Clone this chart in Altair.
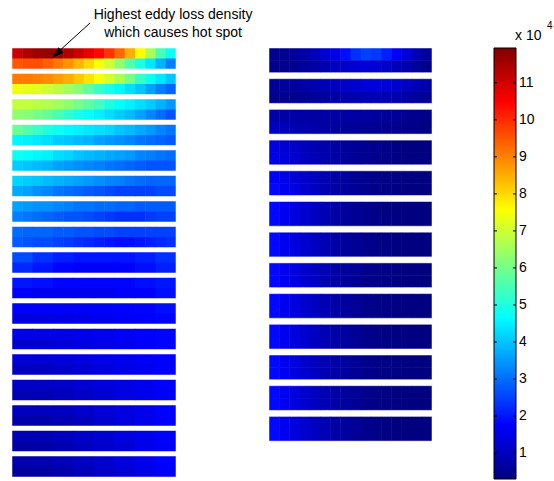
import altair as alt
import pandas as pd

# ---------------- data (values in units of 1e4) ----------------
CBAR_MIN, CBAR_MAX = 0.3, 11.94
CBAR_TICKS = [1, 2, 3, 4, 5, 6, 7, 8, 9, 10, 11]

# left column, 17 conductors; samples along each conductor, top half / bottom half
LEFT_TOP = [
    [11.1, 11.4, 11.6, 11.7, 11.6, 11.4, 11.1, 10.8, 10.4, 9.9, 9.3, 8.5, 7.6, 6.6, 5.5, 4.8],
    [9.1, 9.1, 9.0, 8.9, 8.7, 8.5, 8.2, 7.9, 7.5, 7.1, 6.6, 6.0, 5.3, 4.8, 4.4, 4.0],
    [6.9, 6.9, 6.8, 6.7, 6.5, 6.3, 6.0, 5.7, 5.4, 5.0, 4.7, 4.5, 4.3, 4.1, 3.8, 3.5],
    [5.9, 5.6, 5.3, 5.0, 4.8, 4.6, 4.5, 4.4, 4.3, 4.2, 4.0, 3.9, 3.7, 3.5, 3.3, 3.1],
    [4.8, 4.7, 4.6, 4.5, 4.3, 4.2, 4.0, 3.9, 3.8, 3.7, 3.6, 3.5, 3.3, 3.2, 3.1, 3.0],
    [4.2, 4.1, 4.0, 3.9, 3.8, 3.7, 3.6, 3.5, 3.4, 3.3, 3.2, 3.1, 3.0, 2.9, 2.9, 2.9],
    [3.6, 3.5, 3.4, 3.4, 3.3, 3.2, 3.1, 3.1, 3.0, 3.0, 2.9, 2.9, 2.8, 2.8, 2.8, 2.8],
    [3.0, 2.9, 2.9, 2.9, 2.8, 2.8, 2.7, 2.7, 2.6, 2.6, 2.5, 2.5, 2.5, 2.5, 2.5, 2.5],
    [2.6, 2.3, 2.1, 2.0, 2.0, 2.0, 2.1, 2.3],
    [2.0, 1.9, 1.8, 1.8, 1.8, 1.8, 1.9, 2.0],
    [1.75, 1.7, 1.7, 1.7, 1.7, 1.75, 1.8, 1.9],
    [1.5, 1.5, 1.5, 1.55, 1.6, 1.65, 1.75, 1.8],
    [1.3, 1.3, 1.35, 1.4, 1.5, 1.55, 1.65, 1.75],
    [1.1, 1.1, 1.15, 1.25, 1.35, 1.45, 1.6, 1.75],
    [1.0, 1.0, 1.05, 1.15, 1.3, 1.4, 1.55, 1.75],
    [0.9, 0.9, 1.0, 1.1, 1.25, 1.4, 1.55, 1.75],
    [0.8, 0.85, 0.95, 1.05, 1.2, 1.35, 1.5, 1.75],
]
LEFT_BOTTOM = [
    [9.5, 9.6, 9.6, 9.4, 9.1, 8.8, 8.4, 8.0, 7.5, 7.0, 6.3, 5.6, 5.0, 4.4, 3.8, 3.2],
    [7.4, 7.3, 7.2, 7.0, 6.8, 6.5, 6.2, 5.8, 5.3, 4.9, 4.6, 4.3, 4.0, 3.6, 3.2, 2.9],
    [6.3, 6.2, 6.0, 5.8, 5.5, 5.2, 4.9, 4.7, 4.5, 4.3, 4.1, 3.9, 3.6, 3.3, 3.0, 2.7],
    [4.6, 4.5, 4.4, 4.3, 4.1, 4.0, 3.9, 3.8, 3.6, 3.5, 3.4, 3.3, 3.1, 3.0, 2.9, 2.8],
    [4.1, 4.0, 3.9, 3.8, 3.6, 3.5, 3.4, 3.3, 3.2, 3.1, 3.0, 2.9, 2.8, 2.7, 2.7, 2.7],
    [3.7, 3.6, 3.4, 3.3, 3.1, 3.0, 2.9, 2.8, 2.7, 2.6, 2.5, 2.5, 2.5, 2.5, 2.6, 2.6],
    [3.2, 3.1, 3.0, 2.9, 2.8, 2.7, 2.7, 2.6, 2.5, 2.4, 2.3, 2.3, 2.3, 2.4, 2.5, 2.5],
    [2.8, 2.7, 2.6, 2.6, 2.5, 2.4, 2.3, 2.2, 2.1, 2.0, 1.9, 1.9, 2.0, 2.1, 2.2, 2.3],
    [2.2, 2.0, 1.8, 1.7, 1.7, 1.75, 1.9, 2.1],
    [1.7, 1.6, 1.6, 1.6, 1.6, 1.7, 1.75, 1.9],
    [1.4, 1.4, 1.45, 1.5, 1.6, 1.7, 1.75, 1.8],
    [1.2, 1.2, 1.3, 1.4, 1.5, 1.6, 1.7, 1.8],
    [1.0, 1.0, 1.1, 1.2, 1.35, 1.5, 1.6, 1.75],
    [0.9, 0.9, 1.0, 1.1, 1.25, 1.4, 1.55, 1.7],
    [0.8, 0.8, 0.9, 1.0, 1.2, 1.35, 1.5, 1.7],
    [0.7, 0.75, 0.85, 1.0, 1.15, 1.3, 1.5, 1.7],
    [0.65, 0.7, 0.8, 0.95, 1.1, 1.3, 1.5, 1.7],
]

# right column, 13 conductors
RIGHT_TOP = [
    [0.45, 0.5, 0.6, 0.75, 0.95, 1.2, 1.5, 1.9, 2.3, 2.5, 2.4, 2.1, 1.7, 1.3, 0.9, 0.6],
    [0.55, 0.6, 0.65, 0.7, 0.8, 0.9, 1.0, 1.1, 1.2, 1.3, 1.35, 1.3, 1.2, 1.05, 0.9, 0.75],
    [0.75, 0.75, 0.75, 0.7, 0.7, 0.7, 0.7, 0.7, 0.7, 0.7, 0.65, 0.6, 0.55, 0.5, 0.45, 0.4],
    [1.4, 1.25, 1.1, 1.0, 0.9, 0.8, 0.7, 0.6, 0.55, 0.5, 0.45, 0.4, 0.35, 0.32, 0.3, 0.3],
    [1.7, 1.5, 1.3, 1.15, 1.0, 0.85, 0.72, 0.62, 0.52, 0.45, 0.4, 0.35, 0.32, 0.3, 0.3, 0.3],
    [1.85, 1.6, 1.4, 1.2, 1.05, 0.9, 0.75, 0.65, 0.55, 0.45, 0.4, 0.35, 0.32, 0.3, 0.3, 0.3],
    [1.85, 1.6, 1.4, 1.2, 1.05, 0.9, 0.75, 0.65, 0.55, 0.45, 0.4, 0.35, 0.32, 0.3, 0.3, 0.3],
    [1.85, 1.6, 1.4, 1.2, 1.05, 0.9, 0.75, 0.65, 0.55, 0.45, 0.4, 0.35, 0.32, 0.3, 0.3, 0.3],
    [1.85, 1.6, 1.4, 1.2, 1.05, 0.9, 0.75, 0.65, 0.55, 0.45, 0.4, 0.35, 0.32, 0.3, 0.3, 0.3],
    [1.85, 1.6, 1.4, 1.2, 1.05, 0.9, 0.75, 0.65, 0.55, 0.45, 0.4, 0.35, 0.32, 0.3, 0.3, 0.3],
    [1.85, 1.6, 1.4, 1.2, 1.05, 0.9, 0.75, 0.65, 0.55, 0.45, 0.4, 0.35, 0.32, 0.3, 0.3, 0.3],
    [1.85, 1.6, 1.4, 1.2, 1.05, 0.9, 0.75, 0.65, 0.55, 0.45, 0.4, 0.35, 0.32, 0.3, 0.3, 0.3],
    [1.85, 1.6, 1.4, 1.2, 1.05, 0.9, 0.75, 0.65, 0.55, 0.45, 0.4, 0.35, 0.32, 0.3, 0.3, 0.3],
]
RIGHT_BOTTOM = [
    [0.4, 0.45, 0.5, 0.6, 0.7, 0.85, 1.0, 1.1, 1.25, 1.3, 1.25, 1.1, 0.95, 0.8, 0.6, 0.45],
    [0.45, 0.5, 0.5, 0.55, 0.6, 0.65, 0.7, 0.8, 0.85, 0.9, 0.9, 0.9, 0.85, 0.75, 0.65, 0.55],
    [1.05, 0.95, 0.85, 0.8, 0.75, 0.7, 0.65, 0.6, 0.55, 0.5, 0.5, 0.45, 0.45, 0.4, 0.4, 0.35],
    [1.5, 1.35, 1.2, 1.05, 0.95, 0.85, 0.75, 0.65, 0.55, 0.5, 0.45, 0.4, 0.35, 0.32, 0.3, 0.3],
    [1.85, 1.6, 1.4, 1.2, 1.05, 0.9, 0.75, 0.65, 0.55, 0.45, 0.4, 0.35, 0.32, 0.3, 0.3, 0.3],
    [1.85, 1.6, 1.4, 1.2, 1.05, 0.9, 0.75, 0.65, 0.55, 0.45, 0.4, 0.35, 0.32, 0.3, 0.3, 0.3],
    [1.85, 1.6, 1.4, 1.2, 1.05, 0.9, 0.75, 0.65, 0.55, 0.45, 0.4, 0.35, 0.32, 0.3, 0.3, 0.3],
    [1.85, 1.6, 1.4, 1.2, 1.05, 0.9, 0.75, 0.65, 0.55, 0.45, 0.4, 0.35, 0.32, 0.3, 0.3, 0.3],
    [1.85, 1.6, 1.4, 1.2, 1.05, 0.9, 0.75, 0.65, 0.55, 0.45, 0.4, 0.35, 0.32, 0.3, 0.3, 0.3],
    [1.85, 1.6, 1.4, 1.2, 1.05, 0.9, 0.75, 0.65, 0.55, 0.45, 0.4, 0.35, 0.32, 0.3, 0.3, 0.3],
    [1.85, 1.6, 1.4, 1.2, 1.05, 0.9, 0.75, 0.65, 0.55, 0.45, 0.4, 0.35, 0.32, 0.3, 0.3, 0.3],
    [1.85, 1.6, 1.4, 1.2, 1.05, 0.9, 0.75, 0.65, 0.55, 0.45, 0.4, 0.35, 0.32, 0.3, 0.3, 0.3],
    [1.85, 1.6, 1.4, 1.2, 1.05, 0.9, 0.75, 0.65, 0.55, 0.45, 0.4, 0.35, 0.32, 0.3, 0.3, 0.3],
]

ANNOT_LINES = ["Highest eddy loss density", "which causes hot spot"]

# ---------------- layout (pixels) ----------------
W, H = 554, 481
COLUMNS = [
    # data top, data bottom, x0, x1, y0, pitch, strip height
    (LEFT_TOP, LEFT_BOTTOM, 12, 176, 48, 25.5, 21),
    (RIGHT_TOP, RIGHT_BOTTOM, 269, 432, 48, 30.7, 24.7),
]
SEAM = 0.5  # tiny overlap so adjacent cells leave no hairline gaps
CBAR_X0, CBAR_X1, CBAR_TOP, CBAR_LEN = 494, 516, 48, 431
TICK_LEN = 3

cells, strips = [], []
for top, bot, x0, x1, y0, pitch, sh in COLUMNS:
    for i, (trow, brow) in enumerate(zip(top, bot)):
        sy = y0 + i * pitch
        strips.append({"x": x0, "x2": x1, "y": sy, "y2": sy + sh})
        for r, row in enumerate((trow, brow)):
            n = len(row)
            cw = (x1 - x0) / n
            for c, v in enumerate(row):
                cells.append({
                    "x": x0 + c * cw,
                    "x2": x0 + (c + 1) * cw + (SEAM if c < n - 1 else 0),
                    "y": sy + r * sh / 2,
                    "y2": sy + (r + 1) * sh / 2 + (SEAM if r == 0 else 0),
                    "v": v,
                })
cells_df = pd.DataFrame(cells)
strips_df = pd.DataFrame(strips)
ticks_df = pd.DataFrame({"t": CBAR_TICKS})
cbar_df = pd.DataFrame({"lo": [CBAR_MIN], "hi": [CBAR_MAX]})

# jet colour map over the colour-bar range
JET_POS = [0, 0.125, 0.375, 0.625, 0.875, 1.0]
JET_COLORS = ["#000080", "#0000ff", "#00ffff", "#ffff00", "#ff0000", "#800000"]
span = CBAR_MAX - CBAR_MIN
jet_domain = [CBAR_MIN + f * span for f in JET_POS]
cscale = alt.Scale(type="linear", domain=jet_domain, range=JET_COLORS, interpolate="rgb")

xs = alt.Scale(domain=[0, W], nice=False, zero=False)
ys = alt.Scale(domain=[0, H], reverse=True, nice=False, zero=False)
# value scale for the colour bar, placing CBAR_MIN..CBAR_MAX at the bar's pixel span
per_px = span / CBAR_LEN
vs = alt.Scale(
    domain=[CBAR_MIN - (H - CBAR_TOP - CBAR_LEN) * per_px, CBAR_MAX + CBAR_TOP * per_px],
    nice=False, zero=False,
)

FONT = "Liberation Sans"

heat = alt.Chart(cells_df).mark_rect(strokeWidth=0).encode(
    x=alt.X("x:Q", scale=xs, axis=None),
    x2="x2:Q",
    y=alt.Y("y:Q", scale=ys, axis=None),
    y2="y2:Q",
    color=alt.Color("v:Q", scale=cscale, legend=None),
)

outline = alt.Chart(strips_df).mark_rect(
    fillOpacity=0, stroke="white", strokeOpacity=0.5, strokeWidth=1
).encode(
    x=alt.X("x:Q", scale=xs, axis=None), x2="x2:Q",
    y=alt.Y("y:Q", scale=ys, axis=None), y2="y2:Q",
)

one = alt.Data(values=[{"k": 0}])

text1 = alt.Chart(one).mark_text(
    font=FONT, fontSize=14, align="center", baseline="middle", color="black"
).encode(x=alt.value(173), y=alt.value(15), text=alt.value(ANNOT_LINES[0]))
text2 = alt.Chart(one).mark_text(
    font=FONT, fontSize=14, align="center", baseline="middle", color="black"
).encode(x=alt.value(173), y=alt.value(33), text=alt.value(ANNOT_LINES[1]))

arrow_line = alt.Chart(one).mark_rule(color="black", strokeWidth=1).encode(
    x=alt.value(90), y=alt.value(23), x2=alt.value(57), y2=alt.value(53)
)
arrow_head = alt.Chart(one).mark_point(
    shape="M0,-1L0.6,1L-0.6,1Z", filled=True, color="black", opacity=1,
    size=150, angle=228, strokeWidth=0
).encode(x=alt.value(56.5), y=alt.value(54))

exp_base = alt.Chart(one).mark_text(
    font=FONT, fontSize=14, align="left", baseline="alphabetic", color="black"
).encode(x=alt.value(515), y=alt.value(40), text=alt.value("x 10"))
exp_sup = alt.Chart(one).mark_text(
    font=FONT, fontSize=10, align="left", baseline="alphabetic", color="black"
).encode(x=alt.value(547), y=alt.value(29), text=alt.value("4"))

# ---- colour bar (same jet stops as the colour scale) ----
jet_fill = alt.Gradient(
    gradient="linear",
    stops=[alt.GradientStop(color=c, offset=p) for p, c in zip(JET_POS, JET_COLORS)],
    x1=0, x2=0, y1=1, y2=0,
)
cbar = alt.Chart(cbar_df).mark_rect(fill=jet_fill, stroke="black", strokeWidth=1).encode(
    y=alt.Y("lo:Q", scale=vs, axis=None), y2="hi:Q",
    x=alt.value(CBAR_X0), x2=alt.value(CBAR_X1),
)
tick_l = alt.Chart(ticks_df).mark_rule(color="black", strokeWidth=1).encode(
    y=alt.Y("t:Q", scale=vs, axis=None),
    x=alt.value(CBAR_X0), x2=alt.value(CBAR_X0 + TICK_LEN),
)
tick_r = alt.Chart(ticks_df).mark_rule(color="black", strokeWidth=1).encode(
    y=alt.Y("t:Q", scale=vs, axis=None),
    x=alt.value(CBAR_X1 - TICK_LEN), x2=alt.value(CBAR_X1),
)
tick_lab = alt.Chart(ticks_df).mark_text(
    font=FONT, fontSize=14, align="left", baseline="middle", color="black"
).encode(
    y=alt.Y("t:Q", scale=vs, axis=None),
    x=alt.value(CBAR_X1 + 3),
    text=alt.Text("t:Q", format="d"),
)

base = alt.layer(heat, outline, arrow_line, arrow_head, text1, text2, exp_base, exp_sup)
bar = alt.layer(cbar, tick_l, tick_r, tick_lab)

chart = alt.layer(base, bar).resolve_scale(y="independent").properties(
    width=W, height=H, padding=0, autosize=alt.AutoSizeParams(type="none"),
    background="white",
).configure_view(stroke=None)

chart.save("out.html", embed_options={"renderer": "svg", "actions": False})
